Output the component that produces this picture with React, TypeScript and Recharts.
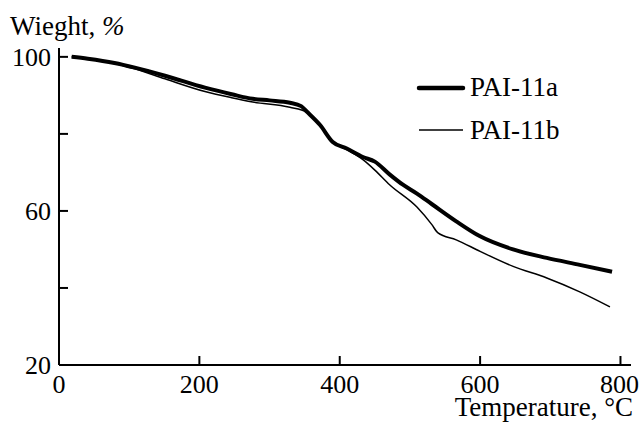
import React from "react";
import { LineChart, Line, XAxis, YAxis, Legend, Label } from "recharts";

const tempsA = [18, 41, 79, 108, 151, 208, 246, 276, 300, 329, 345, 353, 372, 390, 410, 433, 450, 471, 490, 510, 531, 566, 600, 647, 695, 742, 788];
const weightA = [100, 99.5, 98.4, 97.2, 95.1, 92.0, 90.3, 89.1, 88.7, 88.1, 87.2, 85.8, 82.3, 77.9, 76.2, 74.0, 72.8, 69.5, 66.8, 64.5, 61.8, 57.3, 53.4, 50.0, 47.8, 46.0, 44.2];

const tempsB = [18, 41, 79, 108, 151, 208, 246, 276, 329, 353, 372, 390, 410, 433, 450, 471, 510, 531, 540, 566, 600, 647, 695, 742, 785];
const weightB = [100, 99.5, 98.3, 96.9, 94.3, 91.0, 89.4, 88.3, 86.9, 85.6, 82.3, 77.9, 75.9, 73.3, 70.6, 66.8, 61.0, 56.5, 54.3, 52.5, 49.5, 45.6, 42.6, 39.0, 35.1];

const xTicks = [0, 200, 400, 600, 800];
const yTicks = [20, 40, 60, 80, 100];
const yLabelled = [20, 60, 100];
const seriesNames = ["PAI-11a", "PAI-11b"];

const dataA = tempsA.map((t, i) => ({ t, w: weightA[i] }));
const dataB = tempsB.map((t, i) => ({ t, w: weightB[i] }));

const FONT = "'Liberation Serif', 'Times New Roman', Times, serif";

const LegendContent = () => (
  <svg width={200} height={80} style={{ overflow: "visible", display: "block" }}>
    <line x1={1} y1={18} x2={45} y2={18} stroke="#000" strokeWidth={4.5} strokeLinecap="round" />
    <text x={52} y={26} fontSize={27} fontFamily={FONT} fill="#000">{seriesNames[0]}</text>
    <line x1={1} y1={60} x2={45} y2={60} stroke="#000" strokeWidth={1.5} />
    <text x={52} y={69} fontSize={27} fontFamily={FONT} fill="#000">{seriesNames[1]}</text>
  </svg>
);

export default function App() {
  return (
    <div style={{ position: "absolute", left: 0, top: 0, fontFamily: FONT }}>
      <LineChart
        width={639}
        height={422}
        margin={{ top: 48, right: 8, bottom: 0, left: 0 }}
      >
        <XAxis
          type="number"
          dataKey="t"
          domain={[0, 815]}
          ticks={xTicks}
          allowDataOverflow
          height={57}
          stroke="#000"
          strokeWidth={2}
          tickSize={-9}
          tickMargin={19}
          tick={{ fill: "#000", fontSize: 26, fontFamily: FONT }}
        >
          <Label
            content={() => (
              <text x={633} y={416} textAnchor="end" fontSize={27} fontFamily={FONT} fill="#000">
                Temperature, °C
              </text>
            )}
          />
        </XAxis>
        <YAxis
          type="number"
          domain={[20, 102.3]}
          ticks={yTicks}
          allowDataOverflow
          width={59}
          stroke="#000"
          strokeWidth={2}
          tickSize={-9}
          tickMargin={17}
          tickFormatter={(v: number) => (yLabelled.includes(v) ? String(v) : "")}
          tick={{ fill: "#000", fontSize: 26, fontFamily: FONT }}
        >
          <Label
            content={() => (
              <text x={10} y={35} fontSize={27} fontFamily={FONT} fill="#000">
                Wieght, <tspan fontStyle="italic">%</tspan>
              </text>
            )}
          />
        </YAxis>
        <Legend
          layout="vertical"
          align="center"
          verticalAlign="middle"
          content={LegendContent}
          wrapperStyle={{ position: "absolute", left: 418, top: 70, width: 200, height: 80 }}
        />
        <Line
          data={dataA}
          dataKey="w"
          name={seriesNames[0]}
          type="monotone"
          stroke="#000"
          strokeWidth={4}
          dot={false}
          isAnimationActive={false}
        />
        <Line
          data={dataB}
          dataKey="w"
          name={seriesNames[1]}
          type="monotone"
          stroke="#000"
          strokeWidth={1.5}
          dot={false}
          isAnimationActive={false}
        />
      </LineChart>
    </div>
  );
}
